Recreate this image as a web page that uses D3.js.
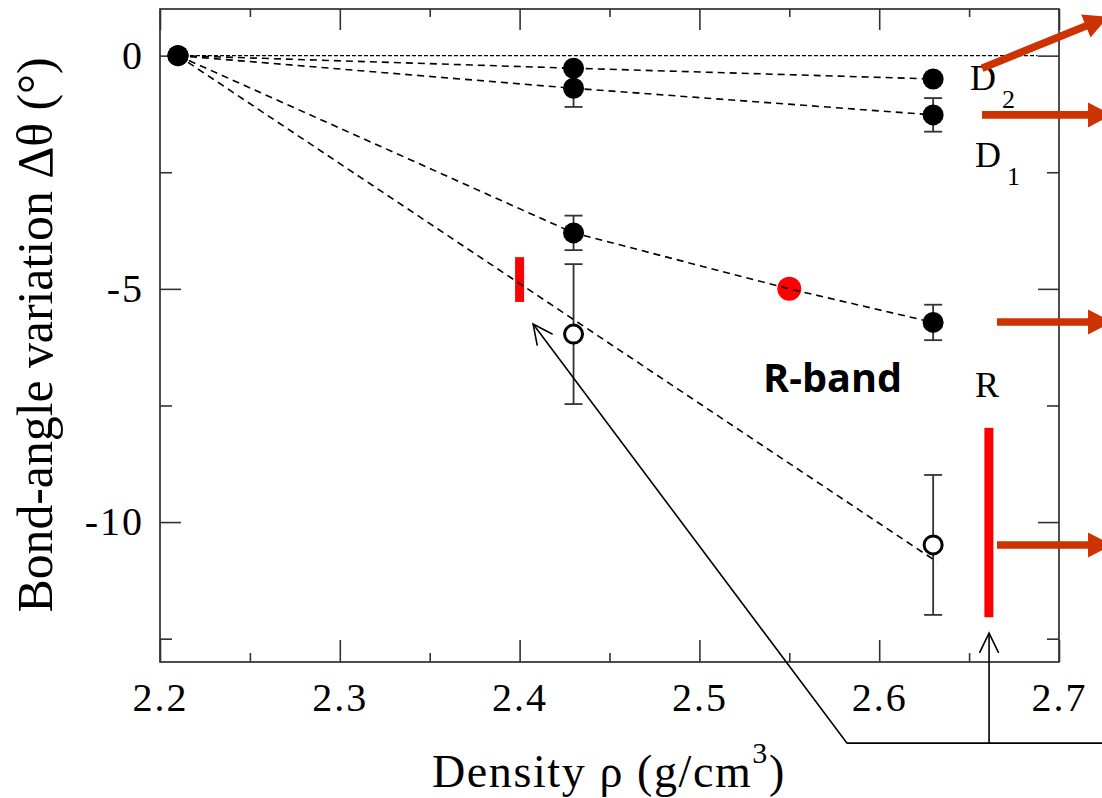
<html>
<head>
<script src="https://d3js.org/d3.v7.min.js"></script>
<style>
  body { margin: 0; background: #fff; }
</style>
</head>
<body>
<script>
  // ---- data ----
  var rho = [2.21, 2.43, 2.63]
  var d2Angle = [0, -0.27, -0.5]
  var d1Angle = [0, -0.7, -1.27]
  var d1Err = [0, 0.4, 0.36]
  var rAngle = [0, -3.8, -5.72]
  var rErr = [0, 0.37, 0.38]
  var rLineRho = [2.21, 2.43, 2.55, 2.63]
  var rLineAngle = [0, -3.8, -5.0, -5.72]
  var openRho = [2.43, 2.63]
  var openAngle = [-5.97, -10.49]
  var openErr = [1.5, 1.5]
  var openFitRho = [2.21, 2.632]
  var openFitAngle = [0, -10.85]
  var zeroLineRho = [2.21, 2.688]
  var redPointRho = [2.55]
  var redPointAngle = [-5.0]
  var bandRho = [2.40, 2.661]
  var bandLo = [-5.28, -12.04]
  var bandHi = [-4.32, -7.98]
  var xMajor = [2.2, 2.3, 2.4, 2.5, 2.6, 2.7]
  var xMinor = [2.25, 2.35, 2.45, 2.55, 2.65]
  var yMajor = [0, -5, -10]
  var yMinor = [-2.5, -7.5, -12.5]

  var width = 1102, height = 798
  var svg = d3.select('body').append('svg').attr('width', width).attr('height', height)
  svg.append('rect').attr('width', width).attr('height', height).attr('fill', 'white')

  var x = d3.scaleLinear().domain([2.2, 2.7]).range([160, 1059])
  var y = d3.scaleLinear().domain([-13, 1]).range([662, 9])
  var serif = '"Liberation Serif", "Times New Roman", serif'

  // frame
  svg.append('rect').attr('x', x(2.2)).attr('y', y(1))
     .attr('width', x(2.7) - x(2.2)).attr('height', y(-13) - y(1))
     .attr('fill', 'none').attr('stroke', '#222').attr('stroke-width', 1.6)

  function styleAxis(g) {
    g.select('.domain').remove()
    g.selectAll('line').attr('stroke', '#333').attr('stroke-width', 1.6)
    g.selectAll('text').attr('font-family', serif).attr('font-size', 40)
      .attr('fill', '#000').style('letter-spacing', '2px')
  }

  svg.append('g').attr('transform', 'translate(0,' + y(-13) + ')')
     .call(d3.axisBottom(x).tickValues(xMajor).tickSize(-22).tickPadding(21).tickFormat(d3.format('.1f'))).call(styleAxis)
  svg.append('g').attr('transform', 'translate(0,' + y(-13) + ')')
     .call(d3.axisBottom(x).tickValues(xMinor).tickSize(-9).tickFormat('')).call(styleAxis)
  svg.append('g').attr('transform', 'translate(0,' + y(1) + ')')
     .call(d3.axisTop(x).tickValues(xMajor).tickSize(-21).tickFormat('')).call(styleAxis)
  svg.append('g').attr('transform', 'translate(0,' + y(1) + ')')
     .call(d3.axisTop(x).tickValues(xMinor).tickSize(-8).tickFormat('')).call(styleAxis)
  svg.append('g').attr('transform', 'translate(' + x(2.2) + ',0)')
     .call(d3.axisLeft(y).tickValues(yMajor).tickSize(-21).tickPadding(16).tickFormat(function(d){return String(d)})).call(styleAxis)
  svg.append('g').attr('transform', 'translate(' + x(2.2) + ',0)')
     .call(d3.axisLeft(y).tickValues(yMinor).tickSize(-12).tickFormat('')).call(styleAxis)
  svg.append('g').attr('transform', 'translate(' + x(2.7) + ',0)')
     .call(d3.axisRight(y).tickValues(yMajor).tickSize(-21).tickFormat('')).call(styleAxis)
  svg.append('g').attr('transform', 'translate(' + x(2.7) + ',0)')
     .call(d3.axisRight(y).tickValues(yMinor).tickSize(-12).tickFormat('')).call(styleAxis)

  // axis titles
  var xt = svg.append('text').attr('x', 432).attr('y', 787)
     .attr('font-family', serif).attr('font-size', 46).style('letter-spacing', '1.6px')
  xt.append('tspan').text('Density ρ (g/cm')
  xt.append('tspan').attr('dy', -24).attr('font-size', 30).text('3')
  xt.append('tspan').attr('dy', 24).text(')')

  svg.append('text').attr('transform', 'translate(52,335) rotate(-90)')
     .attr('text-anchor', 'middle').attr('font-family', serif).attr('font-size', 50)
     .attr('textLength', 555).attr('lengthAdjust', 'spacingAndGlyphs')
     .text('Bond-angle variation Δθ (°)')

  var line = d3.line().x(function(d){return x(d[0])}).y(function(d){return y(d[1])})
  function pts(xs, ys) { return xs.map(function(v, i){return [v, ys[i]]}) }

  // error bars
  var errs = pts(rho, d1Angle).map(function(p, i){return [p[0], p[1], d1Err[i]]})
    .concat(pts(rho, rAngle).map(function(p, i){return [p[0], p[1], rErr[i]]}))
    .concat(pts(openRho, openAngle).map(function(p, i){return [p[0], p[1], openErr[i]]}))
    .filter(function(d){return d[2] > 0})
  var eb = svg.append('g').attr('stroke', '#333').attr('stroke-width', 1.8)
  errs.forEach(function(d) {
    var cx = x(d[0])
    eb.append('line').attr('x1', cx).attr('x2', cx).attr('y1', y(d[1] - d[2])).attr('y2', y(d[1] + d[2]))
    eb.append('line').attr('x1', cx - 9).attr('x2', cx + 9).attr('y1', y(d[1] - d[2])).attr('y2', y(d[1] - d[2]))
    eb.append('line').attr('x1', cx - 9).attr('x2', cx + 9).attr('y1', y(d[1] + d[2])).attr('y2', y(d[1] + d[2]))
  })

  // red bands
  svg.selectAll('rect.band').data(bandRho).enter().append('rect').attr('class', 'band')
     .attr('x', function(d){return x(d) - 4.5}).attr('width', 9)
     .attr('y', function(d, i){return y(bandHi[i])})
     .attr('height', function(d, i){return y(bandLo[i]) - y(bandHi[i])})
     .attr('fill', '#ff0000')

  // markers
  var filled = pts(rho, d2Angle).concat(pts(rho, d1Angle)).concat(pts(rho, rAngle))
  svg.selectAll('circle.filled').data(filled).enter().append('circle').attr('class', 'filled')
     .attr('cx', function(d){return x(d[0])}).attr('cy', function(d){return y(d[1])})
     .attr('r', 10.5).attr('fill', '#000')
  svg.selectAll('circle.open').data(pts(openRho, openAngle)).enter().append('circle').attr('class', 'open')
     .attr('cx', function(d){return x(d[0])}).attr('cy', function(d){return y(d[1])})
     .attr('r', 9).attr('fill', 'white').attr('stroke', '#000').attr('stroke-width', 3)
  svg.selectAll('circle.red').data(pts(redPointRho, redPointAngle)).enter().append('circle').attr('class', 'red')
     .attr('cx', function(d){return x(d[0])}).attr('cy', function(d){return y(d[1])})
     .attr('r', 12).attr('fill', '#ff0000')

  // dashed guide lines
  var dashed = [pts(rho, d2Angle), pts(rho, d1Angle), pts(rLineRho, rLineAngle), pts(openFitRho, openFitAngle)]
  svg.selectAll('path.dash').data(dashed).enter().append('path').attr('class', 'dash')
     .attr('d', line).attr('fill', 'none').attr('stroke', '#000')
     .attr('stroke-width', 1.6).attr('stroke-dasharray', '7,5')
  svg.append('path').attr('d', line(pts(zeroLineRho, [0, 0])))
     .attr('fill', 'none').attr('stroke', '#000').attr('stroke-width', 1.3).attr('stroke-dasharray', '4,2')

  // labels
  function subLabel(px, py, main, sub) {
    var t = svg.append('text').attr('x', px).attr('y', py).attr('font-family', serif).attr('font-size', 36)
    t.append('tspan').text(main)
    if (sub) t.append('tspan').attr('dx', 6).attr('dy', 18).attr('font-size', 26).text(sub)
  }
  subLabel(970, 90, 'D', '2')
  subLabel(975, 167, 'D', '1')
  subLabel(975, 397, 'R')
  svg.append('text').attr('x', 763).attr('y', 392)
     .attr('font-family', '"Open Sans", "Liberation Sans", sans-serif').attr('font-weight', 700)
     .attr('font-size', 39).attr('textLength', 139).attr('lengthAdjust', 'spacingAndGlyphs')
     .text('R-band')

  // orange arrows (annotation, in data units)
  var arrowX1 = [2.6572, 2.6572, 2.6655, 2.6655]
  var arrowY1 = [-0.27, -1.27, -5.71, -10.49]
  var arrowX2 = [2.7273, 2.7295, 2.7295, 2.7295]
  var arrowY2 = [0.83, -1.27, -5.71, -10.49]
  function arrowPoly(x1, y1, x2, y2) {
    var dx = x2 - x1, dy = y2 - y1, L = Math.sqrt(dx * dx + dy * dy)
    var ux = dx / L, uy = dy / L, nx = -uy, ny = ux
    var sw = 3.8, hw = 12.5, hl = 24
    var bx = x2 - ux * hl, by = y2 - uy * hl
    return [[x1 + nx * sw, y1 + ny * sw], [bx + nx * sw, by + ny * sw], [bx + nx * hw, by + ny * hw],
            [x2, y2], [bx - nx * hw, by - ny * hw], [bx - nx * sw, by - ny * sw], [x1 - nx * sw, y1 - ny * sw]]
  }
  arrowX1.forEach(function(v, i) {
    var p = arrowPoly(x(v), y(arrowY1[i]), x(arrowX2[i]), y(arrowY2[i]))
    svg.append('polygon').attr('points', p.map(function(q){return q.join(',')}).join(' ')).attr('fill', '#cc3300')
  })

  // black pointer lines
  var bend = [2.5821, -14.74]
  var tipA = [2.4075, -5.755]
  var tipB = [2.6611, -12.38]
  var kinkEnd = [2.724, -14.74]
  var bl = svg.append('g').attr('stroke', '#000').attr('stroke-width', 1.6).attr('fill', 'none')
  bl.append('path').attr('d', line([kinkEnd, bend, tipA]))
  bl.append('path').attr('d', line([[tipB[0], bend[1]], tipB]))
  function head(tip, from) {
    var tx = x(tip[0]), ty = y(tip[1]), fx = x(from[0]), fy = y(from[1])
    var a = Math.atan2(fy - ty, fx - tx), s = 22, w = 0.45
    bl.append('path').attr('d', 'M' + (tx + s * Math.cos(a + w)) + ',' + (ty + s * Math.sin(a + w)) +
      'L' + tx + ',' + ty + 'L' + (tx + s * Math.cos(a - w)) + ',' + (ty + s * Math.sin(a - w)))
  }
  head(tipA, bend)
  head(tipB, [tipB[0], bend[1]])
</script>
</body>
</html>
